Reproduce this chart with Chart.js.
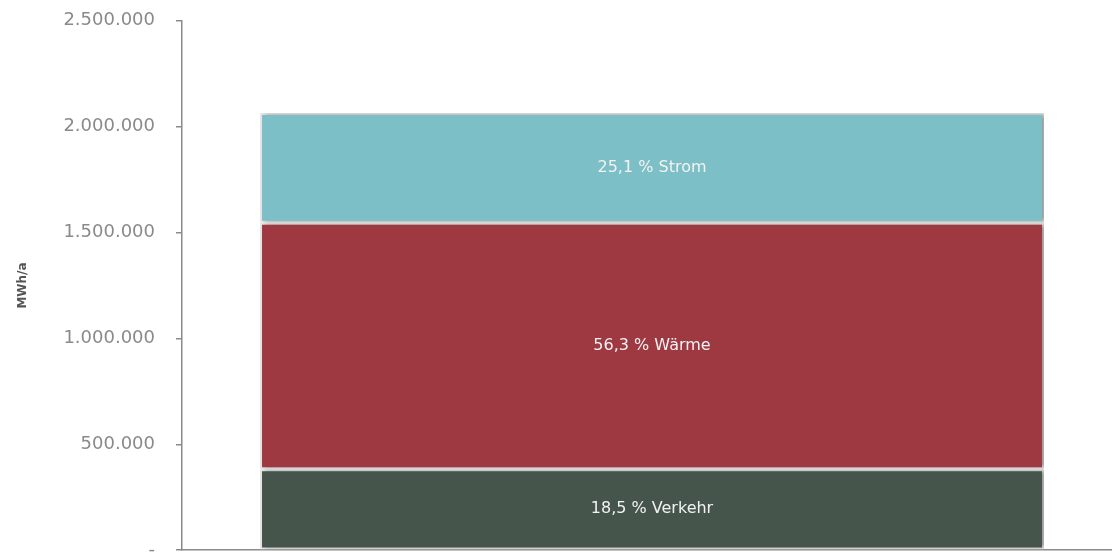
<!DOCTYPE html>
<html lang="de">
<head>
<meta charset="utf-8">
<script src="https://cdn.jsdelivr.net/npm/chart.js@4"></script>
<style>
  html, body { margin: 0; padding: 0; background: #fff; overflow: hidden; }
  #energyChart { display: block; margin-top: -11px; }
</style>
</head>
<body>
<canvas id="energyChart" width="1122" height="593"></canvas>
<script>
// Endenergie nach Sektoren (MWh/a)
const categories = ['Gesamt'];
const sectors = ['Verkehr', 'Wärme', 'Strom'];
const sectorValues = [382600, 1163400, 518900];
const sectorColors = ['#46554b', '#9e3942', '#7dbfc7'];
const yTicks = [0, 500000, 1000000, 1500000, 2000000, 2500000];

const total = sectorValues.reduce((a, b) => a + b, 0);
const fmt = v => v.toLocaleString('de-DE');
const pct = v => (v / total * 100).toLocaleString('de-DE', { minimumFractionDigits: 1, maximumFractionDigits: 1 });

// soft shadow to the right of the bar
const barShadow = {
    id: 'barShadow',
    beforeDatasetsDraw(chart) {
        const c = chart.ctx;
        c.save();
        c.shadowColor = 'rgba(0,0,0,0.35)';
        c.shadowBlur = 4;
        c.shadowOffsetX = 3;
        c.shadowOffsetY = 0;
    },
    afterDatasetsDraw(chart) {
        chart.ctx.restore();
    }
};

// "xx,x % Sektor" in the middle of each segment
const segmentLabels = {
    id: 'segmentLabels',
    afterDraw(chart) {
        const c = chart.ctx;
        c.save();
        c.font = '16px "DejaVu Sans"';
        c.fillStyle = '#f2f2f2';
        c.textAlign = 'center';
        c.textBaseline = 'middle';
        chart.data.datasets.forEach((ds, i) => {
            const bar = chart.getDatasetMeta(i).data[0];
            c.fillText(pct(ds.data[0]) + ' % ' + ds.label, bar.x, (bar.y + bar.base) / 2);
        });
        c.restore();
    }
};

new Chart(document.getElementById('energyChart'), {
    type: 'bar',
    data: {
        labels: categories,
        datasets: sectors.map((s, i) => ({
            label: s,
            data: [sectorValues[i]],
            backgroundColor: sectorColors[i],
            borderColor: '#e6e6e6',
            borderWidth: 2,
            borderSkipped: false,
            barPercentage: 0.834,
            categoryPercentage: 1
        }))
    },
    options: {
        responsive: false,
        animation: false,
        layout: { padding: { top: 10, bottom: 13, left: 16, right: 0 } },
        plugins: { legend: { display: false }, tooltip: { enabled: false } },
        scales: {
            x: {
                stacked: true,
                ticks: { display: false },
                grid: { display: false },
                border: { color: '#8a8a8a', width: 1.5 }
            },
            y: {
                stacked: true,
                min: 0,
                max: 2500000,
                afterBuildTicks: axis => { axis.ticks = yTicks.map(v => ({ value: v })); },
                ticks: {
                    padding: 21,
                    color: '#8a8a8a',
                    font: { family: 'DejaVu Sans', size: 18 },
                    callback: v => v === 0 ? '-' : fmt(v)
                },
                grid: { drawOnChartArea: false, tickLength: 6, color: '#8a8a8a', lineWidth: 1.5 },
                border: { color: '#8a8a8a', width: 1.5 },
                title: {
                    display: true,
                    text: 'MWh/a',
                    color: '#555',
                    font: { family: 'DejaVu Sans', size: 12, weight: 'bold' },
                    padding: { top: 0, bottom: 12 }
                }
            }
        }
    },
    plugins: [barShadow, segmentLabels]
});
</script>
</body>
</html>
